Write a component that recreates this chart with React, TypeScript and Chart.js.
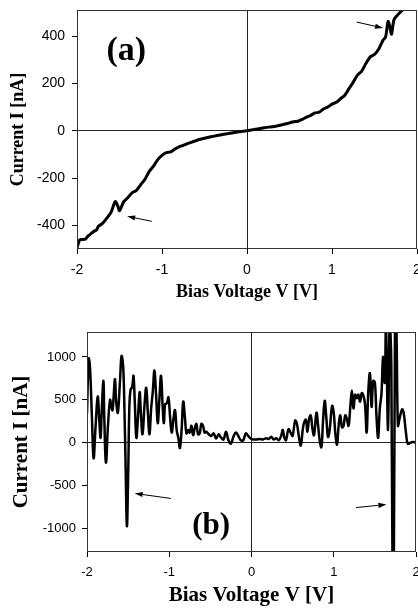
import React, { useEffect, useRef } from "react";
import { Chart, registerables } from "chart.js";

Chart.register(...registerables);

// ---------- data ----------
const xTicks = [-2, -1, 0, 1, 2];
const topYTicks = [-400, -200, 0, 200, 400];
const bottomYTicks = [-1000, -500, 0, 500, 1000];

// (a) I-V curve
const topVoltage = [
  -2.0, -1.97, -1.95, -1.9, -1.87, -1.85, -1.8, -1.77, -1.75, -1.7, -1.65, -1.6, -1.55, -1.52, -1.5,
  -1.45, -1.4, -1.35, -1.3, -1.25, -1.2, -1.15, -1.1, -1.05, -1.0, -0.95, -0.9, -0.85, -0.8, -0.75,
  -0.7, -0.65, -0.6, -0.55, -0.5, -0.45, -0.4, -0.35, -0.3, -0.25, -0.2, -0.15, -0.1, -0.05, 0.0,
  0.05, 0.1, 0.15, 0.2, 0.25, 0.3, 0.35, 0.4, 0.45, 0.5, 0.55, 0.6, 0.65, 0.7, 0.75, 0.8, 0.85,
  0.9, 0.95, 1.0, 1.05, 1.1, 1.15, 1.2, 1.25, 1.3, 1.35, 1.4, 1.45, 1.5, 1.55, 1.6, 1.63, 1.66,
  1.68, 1.7, 1.73, 1.78, 1.84, 1.9, 2.0,
];
const topCurrent = [
  -495, -462, -460, -458, -445, -440, -425, -420, -405, -392, -370, -345, -300, -318, -338,
  -300, -282, -262, -252, -228, -205, -172, -150, -122, -104, -93, -90, -78, -68, -62,
  -55, -48, -42, -36, -32, -28, -24, -20, -17, -14, -11, -8, -5, -2, 0,
  3, 6, 9, 12, 15, 17, 20, 24, 28, 33, 38, 40, 48, 57, 65, 75, 78,
  92, 100, 112, 120, 135, 150, 178, 205, 235, 252, 285, 312, 322, 345, 382, 395, 462,
  440, 408, 470, 492, 512, 514, 514,
];

// (b) differential signal
const bottomVoltage = [
  -2.0, -1.98, -1.965, -1.94, -1.92, -1.895, -1.87, -1.85, -1.835, -1.82, -1.8, -1.79, -1.77, -1.745,
  -1.72, -1.705, -1.69, -1.675, -1.66, -1.645, -1.625, -1.6, -1.58, -1.56, -1.545, -1.53, -1.515, -1.5,
  -1.485, -1.47, -1.45, -1.435, -1.42, -1.4, -1.38, -1.36, -1.345, -1.325, -1.3, -1.28, -1.26, -1.24,
  -1.22, -1.2, -1.18, -1.16, -1.14, -1.12, -1.1, -1.08, -1.065, -1.05, -1.03, -1.01, -0.99, -0.97,
  -0.95, -0.93, -0.91, -0.89, -0.87, -0.85, -0.83, -0.81, -0.79, -0.77, -0.75, -0.73, -0.71, -0.69,
  -0.67, -0.65, -0.63, -0.61, -0.59, -0.57, -0.55, -0.52, -0.49, -0.46, -0.43, -0.4, -0.37, -0.34,
  -0.31, -0.28, -0.25, -0.22, -0.19, -0.16, -0.13, -0.1, -0.07, -0.04, -0.01, 0.02, 0.06, 0.1, 0.14,
  0.18, 0.21, 0.24, 0.27, 0.3, 0.33, 0.36, 0.38, 0.4, 0.42, 0.45, 0.48, 0.5, 0.53, 0.55, 0.58, 0.6,
  0.63, 0.66, 0.68, 0.7, 0.72, 0.74, 0.76, 0.79, 0.81, 0.83, 0.85, 0.87, 0.89, 0.91, 0.93, 0.95,
  0.98, 1.0, 1.02, 1.04, 1.06, 1.08, 1.1, 1.12, 1.14, 1.16, 1.18, 1.2, 1.22, 1.24, 1.26, 1.28, 1.3,
  1.32, 1.34, 1.36, 1.38, 1.4, 1.42, 1.44, 1.46, 1.48, 1.5, 1.52, 1.54, 1.56, 1.58, 1.6, 1.62, 1.635,
  1.66, 1.68, 1.7, 1.715, 1.73, 1.745, 1.76, 1.78, 1.8, 1.83, 1.85, 1.88, 1.9, 1.93, 1.96, 2.0,
];
const bottomCurrent = [
  340, 980, 900, 300, -180, 200, 540, 250, 60, 400, 720, 300, -230, 200,
  500, 430, 380, 560, 740, 480, 350, 700, 1010, 880, 400, -300, -970, -400,
  420, 620, 650, 780, 500, 60, 300, 590, 350, 100, 450, 640, 350, 100,
  400, 600, 840, 560, 230, 500, 780, 420, 230, 450, 460, 530, 300, 120,
  270, 380, 150, 60, -60, 150, 480, 300, 110, 150, 120, 200, 90, 170,
  220, 100, 110, 220, 200, 120, 130, 100, 80, 110, 50, 100, 60, 40,
  130, 30, -10, 70, 120, 80, 30, 30, 110, 80, 50, 40, 40, 45, 40,
  55, 45, 70, 40, 55, 30, 80, 150, 60, 30, 160, 110, 80, 260, 230, 50, -30,
  200, 270, 130, 280, 320, 170, 90, 350, 200, 20, -50, 260, 490, 290, 70, 150,
  430, 350, 100, -20, 210, 320, 180, 200, 320, 280, 200, 400, 610, 400, 560, 520, 560,
  480, 580, 550, 450, 120, 600, 810, 420, 720, 700, 300, 60, 400, 570, 1000, 700, 1350,
  150, 1400, 900, -1500, -1500, 1400, 1400, 200, 280, 390, 350, 100, -10, 0, 10, 5,
];

// annotation arrows: [fromV, fromI, toV, toI]
const topArrows = [
  [1.29, 459, 1.6, 434],
  [-1.12, -383, -1.41, -362],
];
const bottomArrows = [
  [-0.98, -647, -1.42, -588],
  [1.27, -753, 1.64, -718],
];
const topLabelPos = [-1.42, 335];
const bottomLabelPos = [-0.49, -965];

type Props = {
  voltage: number[];
  current: number[];
  yMin: number;
  yMax: number;
  yTicks: number[];
  yWidth: number;
  xHeight: number;
  padTop: number;
  padRight: number;
  height: number;
  tickSize: number;
  titleSize: number;
  yTitlePad: number;
  xTitlePad: number;
  yTickPad: number;
  xTickPad: number;
  arrows: number[][];
  label: string;
  labelPos: number[];
  labelSize: number;
  lineWidth: number;
  tension: number;
};

function makeDecor(p: Props) {
  return {
    id: "decor",
    afterDatasetsDraw(chart: any) {
      const { ctx, chartArea } = chart;
      const { left, top, right, bottom } = chartArea;
      const xs = chart.scales.x;
      const ys = chart.scales.y;
      ctx.save();
      ctx.strokeStyle = "#333";
      ctx.lineWidth = 1;
      ctx.strokeRect(left + 0.5, top + 0.5, right - left - 1, bottom - top - 1);
      // arrows
      ctx.strokeStyle = "#000";
      ctx.fillStyle = "#000";
      for (const a of p.arrows) {
        const x1 = xs.getPixelForValue(a[0]);
        const y1 = ys.getPixelForValue(a[1]);
        const x2 = xs.getPixelForValue(a[2]);
        const y2 = ys.getPixelForValue(a[3]);
        const ang = Math.atan2(y2 - y1, x2 - x1);
        const hl = 8;
        const hw = 2.6;
        const bx = x2 - hl * Math.cos(ang);
        const by = y2 - hl * Math.sin(ang);
        ctx.lineWidth = 1;
        ctx.beginPath();
        ctx.moveTo(x1, y1);
        ctx.lineTo(bx, by);
        ctx.stroke();
        ctx.beginPath();
        ctx.moveTo(x2, y2);
        ctx.lineTo(bx - hw * Math.sin(ang), by + hw * Math.cos(ang));
        ctx.lineTo(bx + hw * Math.sin(ang), by - hw * Math.cos(ang));
        ctx.closePath();
        ctx.fill();
      }
      ctx.font = `bold ${p.labelSize}px "Liberation Serif"`;
      ctx.textAlign = "center";
      ctx.textBaseline = "middle";
      ctx.fillText(p.label, xs.getPixelForValue(p.labelPos[0]), ys.getPixelForValue(p.labelPos[1]));
      ctx.restore();
    },
  };
}

function IVChart(p: Props) {
  const ref = useRef<HTMLCanvasElement>(null);
  useEffect(() => {
    const gridColor = (c: any) => (c.tick && c.tick.value === 0 ? "#222" : "rgba(0,0,0,0)");
    const chart = new Chart(ref.current as HTMLCanvasElement, {
      type: "line",
      data: {
        datasets: [
          {
            data: p.voltage.map((v, i) => ({ x: v, y: p.current[i] })),
            borderColor: "#000",
            borderWidth: p.lineWidth,
            pointRadius: 0,
            tension: p.tension,
            fill: false,
          },
        ],
      },
      options: {
        responsive: false,
        animation: false,
        devicePixelRatio: 1,
        layout: { padding: { top: p.padTop, right: p.padRight, left: 0, bottom: 0 } },
        plugins: { legend: { display: false }, tooltip: { enabled: false } },
        scales: {
          x: {
            type: "linear",
            min: -2,
            max: 2,
            afterBuildTicks: (s: any) => {
              s.ticks = xTicks.map((v) => ({ value: v }));
            },
            afterFit: (s: any) => {
              s.height = p.xHeight;
              s.paddingLeft = 0;
              s.paddingRight = 0;
            },
            ticks: {
              autoSkip: false,
              maxRotation: 0,
              color: "#000",
              padding: p.xTickPad,
              font: { family: '"Liberation Sans", Arial', size: p.tickSize },
              callback: (v: any) => String(v),
            },
            grid: { color: gridColor, tickColor: "#000", tickLength: 5, lineWidth: 1 },
            border: { display: false },
            title: {
              display: true,
              text: "Bias Voltage V [V]",
              color: "#000",
              font: { family: '"Liberation Serif"', weight: "bold", size: p.titleSize },
              padding: { top: 0, bottom: p.xTitlePad },
            },
          },
          y: {
            type: "linear",
            min: p.yMin,
            max: p.yMax,
            afterBuildTicks: (s: any) => {
              s.ticks = p.yTicks.map((v) => ({ value: v }));
            },
            afterFit: (s: any) => {
              s.width = p.yWidth;
              s.paddingTop = 0;
              s.paddingBottom = 0;
            },
            ticks: {
              autoSkip: false,
              color: "#000",
              padding: p.yTickPad,
              font: { family: '"Liberation Sans", Arial', size: p.tickSize },
              callback: (v: any) => String(v),
            },
            grid: { color: gridColor, tickColor: "#000", tickLength: 5, lineWidth: 1 },
            border: { display: false },
            title: {
              display: true,
              text: "Current I [nA]",
              color: "#000",
              font: { family: '"Liberation Serif"', weight: "bold", size: p.titleSize },
              padding: { top: p.yTitlePad, bottom: 0 },
            },
          },
        },
      } as any,
      plugins: [makeDecor(p)],
    });
    return () => chart.destroy();
  }, []);
  return <canvas ref={ref} width={418} height={p.height} style={{ display: "block" }} />;
}

export default function App() {
  return (
    <div style={{ position: "absolute", left: 0, top: 0, width: 418, height: 608, background: "#fff" }}>
      <div style={{ position: "absolute", left: 0, top: 0 }}>
        <IVChart
          voltage={topVoltage}
          current={topCurrent}
          yMin={-500}
          yMax={510}
          yTicks={topYTicks}
          yWidth={77}
          xHeight={56}
          padTop={10}
          padRight={1}
          height={305}
          tickSize={14}
          titleSize={18}
          yTitlePad={8}
          xTitlePad={2}
          yTickPad={7}
          xTickPad={8}
          arrows={topArrows}
          label="(a)"
          labelPos={topLabelPos}
          labelSize={34}
          lineWidth={3}
          tension={0.25}
        />
      </div>
      <div style={{ position: "absolute", left: 0, top: 305 }}>
        <IVChart
          voltage={bottomVoltage}
          current={bottomCurrent}
          yMin={-1270}
          yMax={1290}
          yTicks={bottomYTicks}
          yWidth={87}
          xHeight={56}
          padTop={27}
          padRight={2}
          height={303}
          tickSize={13}
          titleSize={21}
          yTitlePad={9}
          xTitlePad={0}
          yTickPad={6}
          xTickPad={8}
          arrows={bottomArrows}
          label="(b)"
          labelPos={bottomLabelPos}
          labelSize={31}
          lineWidth={2.5}
          tension={0.4}
        />
      </div>
    </div>
  );
}
